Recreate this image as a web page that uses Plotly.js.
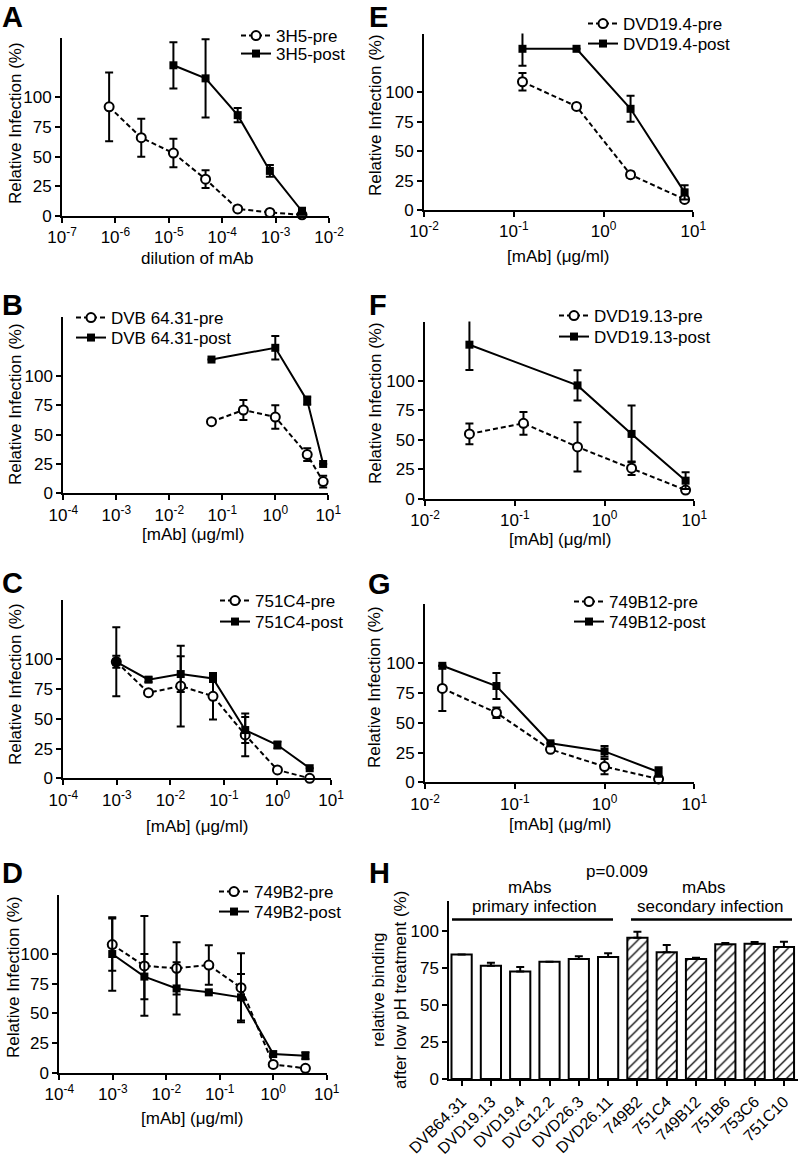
<!DOCTYPE html>
<html>
<head>
<meta charset="utf-8">
<script src="https://cdn.plot.ly/plotly-3.0.1.min.js"></script>
<style>html,body{margin:0;padding:0;background:#fff}</style>
</head>
<body>
<div id="chart" style="width:800px;height:1156px"></div>
<script>
// Panel A: 3H5 (dilution of mAb)
const concA = [7.63e-7, 3.05e-6, 1.22e-5, 4.88e-5, 1.95e-4, 7.81e-4, 3.125e-3];
const preA = [92, 66, 53, 31, 6, 3, 1];
const preAErr = [29, 16, 12, 7.5, 0, 0, 0];
const concAPost = [1.22e-5, 4.88e-5, 1.95e-4, 7.81e-4, 3.125e-3];
const postA = [127, 116, 85, 38, 4];
const postAErr = [19.5, 33, 6, 5, 3];

// Panel B: DVB 64.31
const concBPre = [0.0625, 0.25, 1, 4, 8];
const preB = [61, 71, 65, 33, 10];
const preBErr = [2, 8.5, 10, 5.5, 5];
const concBPost = [0.0625, 1, 4, 8];
const postB = [114, 124, 79, 25];
const postBErr = [0, 10, 3.5, 0];

// Panel C: 751C4
const concC = [0.000977, 0.0039, 0.0156, 0.0625, 0.25, 1, 4];
const preC = [98, 72, 77.6, 69, 36.5, 7, 0];
const preCErr = [29, 0, 34, 19.6, 18, 0, 0];
const postC = [98, 83, 87.7, 84, 40.6, 28, 8.5];
const postCErr = [5, 2, 15, 3, 11, 3, 0];

// Panel D: 749B2
const concD = [0.000977, 0.0039, 0.0156, 0.0625, 0.25, 1, 4];
const preD = [108, 90, 88, 90.7, 71.6, 7, 3.7];
const preDErr = [22, 42, 22, 16.6, 29, 0, 0];
const postD = [100, 81, 71, 67.7, 63.5, 15.7, 14.3];
const postDErr = [31, 19, 22, 0, 19.6, 0, 3];

// Panel E: DVD19.4
const concE = [0.125, 0.5, 2, 8];
const preE = [109, 88, 30, 9];
const preEErr = [7.5, 0, 2.5, 2];
const postE = [137, 137, 86, 15];
const postEErr = [14.5, 0, 11, 6];

// Panel F: DVD19.13
const concFPre = [0.03125, 0.125, 0.5, 2, 8];
const preF = [55, 64, 44, 26, 7.5];
const preFErr = [8.8, 9.6, 20.8, 5.7, 1];
const concFPost = [0.03125, 0.5, 2, 8];
const postF = [130.4, 96, 55, 15.5];
const postFErr = [21.4, 12.8, 24, 7];

// Panel G: 749B12
const concG = [0.0156, 0.0625, 0.25, 1, 4];
const preG = [79, 58.5, 27.7, 13.2, 2.8];
const preGErr = [19, 4.5, 1.5, 6.4, 1];
const postG = [98, 81, 32.8, 26, 8.7];
const postGErr = [0, 11, 0, 4.5, 4];

// Panel H: binding after low pH
const primaryMabs = ["DVB64.31", "DVD19.13", "DVD19.4", "DVG12.2", "DVD26.3", "DVD26.11"];
const primaryBinding = [84, 76.4, 72.4, 79, 80.9, 82.3];
const primaryErr = [0, 2, 3.1, 0, 1.8, 2.4];
const secondaryMabs = ["749B2", "751C4", "749B12", "751B6", "753C6", "751C10"];
const secondaryBinding = [95.3, 85.4, 80.9, 90.8, 91.2, 89];
const secondaryErr = [4, 5, 0.9, 0.9, 1.2, 3.6];

// tick exponents
const expsA = [-7, -6, -5, -4, -3, -2];
const expsWide = [-4, -3, -2, -1, 0, 1];
const expsNarrow = [-2, -1, 0, 1];
const infectionTicks = [0, 25, 50, 75, 100];

const W = 800, H = 1156;
const px = (x) => x / W;
const py = (y) => 1 - y / H;
const FONT = "Liberation Sans, Arial, sans-serif";

let legendCount = 0;
function curve(name, x, y, err, pre, n) {
  const s = n > 1 ? String(n) : "";
  legendCount += 1;
  return {
    x: x, y: y, name: name,
    type: "scatter", mode: "lines+markers",
    xaxis: "x" + s, yaxis: "y" + s,
    legend: "legend" + (legendCount > 1 ? legendCount : ""),
    line: { color: "black", width: 2, dash: pre ? "5px,3px" : "solid" },
    marker: pre
      ? { symbol: "circle", size: 9, color: "white", line: { color: "black", width: 2 } }
      : { symbol: "square", size: 8, color: "black" },
    error_y: { type: "data", array: err, visible: true, color: "black", thickness: 2, width: 4 },
    cliponaxis: false,
  };
}

const traces = [
  curve("3H5-pre", concA, preA, preAErr, true, 1),
  curve("3H5-post", concAPost, postA, postAErr, false, 1),
  curve("DVB 64.31-pre", concBPre, preB, preBErr, true, 2),
  curve("DVB 64.31-post", concBPost, postB, postBErr, false, 2),
  curve("751C4-pre", concC, preC, preCErr, true, 3),
  curve("751C4-post", concC, postC, postCErr, false, 3),
  curve("749B2-pre", concD, preD, preDErr, true, 4),
  curve("749B2-post", concD, postD, postDErr, false, 4),
  curve("DVD19.4-pre", concE, preE, preEErr, true, 5),
  curve("DVD19.4-post", concE, postE, postEErr, false, 5),
  curve("DVD19.13-pre", concFPre, preF, preFErr, true, 6),
  curve("DVD19.13-post", concFPost, postF, postFErr, false, 6),
  curve("749B12-pre", concG, preG, preGErr, true, 7),
  curve("749B12-post", concG, postG, postGErr, false, 7),
  {
    x: primaryMabs, y: primaryBinding, type: "bar", xaxis: "x8", yaxis: "y8",
    showlegend: false, width: 0.69,
    marker: { color: "white", line: { color: "black", width: 2 } },
    error_y: { type: "data", symmetric: false, array: primaryErr, arrayminus: primaryErr.map(() => 0),
      color: "black", thickness: 2, width: 4 },
  },
  {
    x: secondaryMabs, y: secondaryBinding, type: "bar", xaxis: "x8", yaxis: "y8",
    showlegend: false, width: 0.69,
    marker: { color: "white", line: { color: "black", width: 2 },
      pattern: { shape: "/", fgcolor: "black", bgcolor: "white", size: 7, solidity: 0.18 } },
    error_y: { type: "data", symmetric: false, array: secondaryErr, arrayminus: secondaryErr.map(() => 0),
      color: "black", thickness: 2, width: 4 },
  },
];

const lineStyle = {
  showline: true, linewidth: 2, linecolor: "black",
  ticks: "outside", ticklen: 5, tickwidth: 2, tickcolor: "black",
  showgrid: false, zeroline: false, tickfont: { size: 17, color: "black" },
};

function logAxis(x0, x1, exps, n) {
  return Object.assign({}, lineStyle, {
    domain: [px(x0), px(x1)], type: "log", anchor: "y" + (n > 1 ? n : ""),
    range: [exps[0], exps[exps.length - 1]],
    tickvals: exps.map((e) => Math.pow(10, e)),
    ticktext: exps.map((e) => "10<sup>" + e + "</sup>"),
  });
}
function infAxis(top, bottom, n) {
  return Object.assign({}, lineStyle, {
    domain: [py(bottom), py(top)], anchor: "x" + (n > 1 ? n : ""),
    range: [0, 150], tickvals: infectionTicks,
  });
}

const layout = {
  width: W, height: H,
  margin: { l: 0, r: 0, t: 0, b: 0 },
  paper_bgcolor: "white", plot_bgcolor: "white",
  font: { family: FONT, color: "black", size: 17 },
  barmode: "overlay",
  xaxis: logAxis(62, 329, expsA, 1),
  yaxis: infAxis(38, 216, 1),
  xaxis2: logAxis(63.3, 328.3, expsWide, 2),
  yaxis2: infAxis(317.3, 493.3, 2),
  xaxis3: logAxis(63.3, 331, expsWide, 3),
  yaxis3: infAxis(600, 778.3, 3),
  xaxis4: logAxis(59.3, 326.7, expsWide, 4),
  yaxis4: infAxis(894.7, 1072.7, 4),
  xaxis5: logAxis(424, 693.3, expsNarrow, 5),
  yaxis5: infAxis(33.5, 210, 5),
  xaxis6: logAxis(425, 694.3, expsNarrow, 6),
  yaxis6: infAxis(321.5, 499, 6),
  xaxis7: logAxis(425, 694.3, expsNarrow, 7),
  yaxis7: infAxis(604, 782.3, 7),
  xaxis8: Object.assign({}, lineStyle, {
    domain: [px(449.3), px(798)], anchor: "y8", type: "category",
    categoryorder: "array", categoryarray: primaryMabs.concat(secondaryMabs),
    range: [-0.42, 11.48], tickangle: -45, tickfont: { size: 16, color: "black" },
  }),
  yaxis8: Object.assign({}, lineStyle, {
    domain: [py(1079), py(901)], anchor: "x8",
    range: [0, 120], tickvals: infectionTicks,
  }),
  shapes: [
    { type: "line", xref: "paper", yref: "paper", x0: px(452), x1: px(613), y0: py(919.5), y1: py(919.5),
      line: { color: "black", width: 2.5 } },
    { type: "line", xref: "paper", yref: "paper", x0: px(631), x1: px(792), y0: py(919.5), y1: py(919.5),
      line: { color: "black", width: 2.5 } },
  ],
  annotations: [],
};

// one legend per entry: [text left, text centre y]
const legendSpots = [
  [268, 35], [268, 53],
  [103, 317], [103, 337],
  [247, 600], [247, 621],
  [246, 891], [246, 911],
  [615, 23], [615, 43],
  [586, 315], [586, 336],
  [601, 601], [601, 621],
];
legendSpots.forEach((p, i) => {
  layout["legend" + (i > 0 ? i + 1 : "")] = {
    x: px(p[0] - 32), y: py(p[1] - 17), xanchor: "left", yanchor: "top",
    bgcolor: "rgba(0,0,0,0)", font: { size: 17, color: "black" },
    itemwidth: 30,
  };
});

function note(text, x, y, opts) {
  layout.annotations.push(Object.assign({
    text: text, x: px(x), y: py(y), xref: "paper", yref: "paper",
    showarrow: false, xanchor: "center", yanchor: "middle",
    font: { size: 17, color: "black", family: FONT },
  }, opts || {}));
}

// panel letters
const letters = [["A", 12, 17], ["B", 12, 305], ["C", 12, 583], ["D", 12, 873],
  ["E", 378, 17], ["F", 378, 305], ["G", 379, 584], ["H", 379, 873]];
letters.forEach((l) => note("<b>" + l[0] + "</b>", l[1], l[2], { font: { size: 29, color: "black", family: FONT } }));

// y titles
const yTitle = "Relative Infection (%)";
[[15, 123], [15, 404], [15, 684], [13, 977], [375, 115], [375, 403], [375, 687]].forEach((p) =>
  note(yTitle, p[0], p[1], { textangle: -90 }));
note("relative binding<br>after low pH treatment (%)", 389, 990, { textangle: -90 });

// x titles
note("dilution of mAb", 197, 259);
const xTitle = "[mAb] (μg/ml)";
[[193, 534], [197, 826], [192, 1118], [558, 256], [560, 539], [560, 824]].forEach((p) => note(xTitle, p[0], p[1]));

// panel H labels
note("p=0.009", 617, 871);
note("mAbs", 529, 887);
note("primary infection", 534, 906);
note("mAbs", 703, 887);
note("secondary infection", 710, 906);

Plotly.newPlot("chart", traces, layout, { staticPlot: true });
</script>
</body>
</html>
